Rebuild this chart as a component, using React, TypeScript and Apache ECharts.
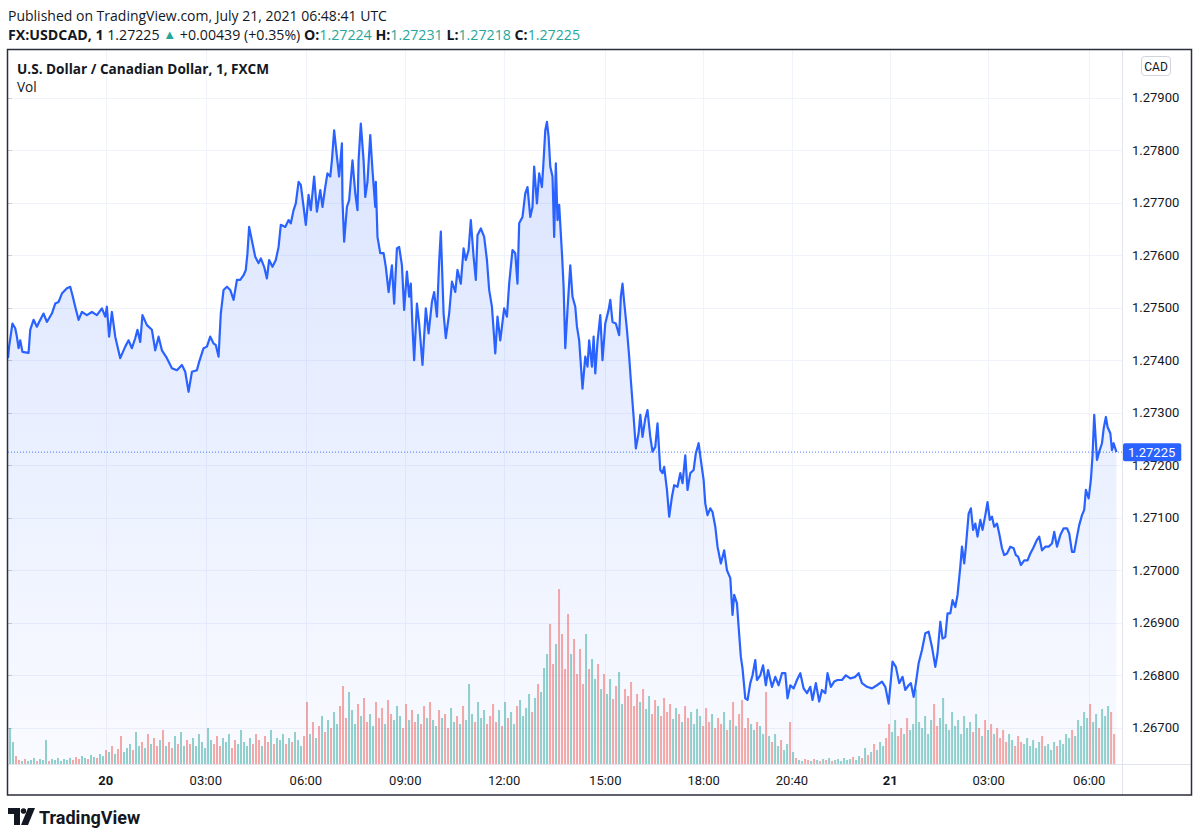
import React, { useEffect, useRef } from "react";
import * as echarts from "echarts";

// minute index (0 = left edge of the chart, ~19 Jul 21:04 UTC) and close price
const priceSeries: [number, number][] = [
  [0,1.27404],[2,1.27426],[8,1.27470],[13,1.27461],[16,1.27445],[19,1.27423],[22,1.27438],[26,1.27416],[37,1.27414],[40,1.27458],[46,1.27477],[52,1.27464],[56,1.27473],[64,1.27489],[70,1.27473],[79,1.27489],[85,1.27508],[91,1.27511],[97,1.27527],[106,1.27537],[112,1.27540],[116,1.27524],[121,1.27502],[127,1.27477],[133,1.27492],[142,1.27486],[151,1.27492],[160,1.27486],[169,1.27499],[175,1.27483],[178,1.27502],[182,1.27445],[187,1.27492],[193,1.27445],[202,1.27404],[211,1.27426],[217,1.27438],[223,1.27423],[229,1.27442],[233,1.27458],[238,1.27435],[242,1.27486],[250,1.27467],[259,1.27458],[265,1.27419],[271,1.27445],[277,1.27419],[286,1.27404],[295,1.27385],[304,1.27381],[313,1.27391],[319,1.27378],[325,1.27340],[331,1.27378],[340,1.27381],[344,1.27397],
  [352,1.27423],[358,1.27426],[364,1.27445],[370,1.27432],[374,1.27429],[379,1.27407],[383,1.27489],[388,1.27534],[394,1.27540],[400,1.27534],[406,1.27515],[412,1.27553],[418,1.27553],[424,1.27562],[428,1.27572],[431,1.27604],[434,1.27654],[440,1.27623],[445,1.27597],[451,1.27585],[455,1.27594],[461,1.27578],[466,1.27556],[470,1.27591],[476,1.27578],[482,1.27591],[487,1.27616],[491,1.27658],[499,1.27654],[505,1.27667],[509,1.27661],[514,1.27686],[518,1.27699],[523,1.27740],[527,1.27734],[532,1.27692],[536,1.27658],[541,1.27715],[545,1.27686],[551,1.27750],[556,1.27683],[562,1.27724],[566,1.27692],[571,1.27730],[575,1.27756],[580,1.27750],[583,1.27781],[587,1.27838],[592,1.27788],[596,1.27750],[601,1.27813],[602,1.27705],[605,1.27626],[610,1.27692],[614,1.27705],[620,1.27781],[625,1.27718],[629,1.27686],[631,1.27781],[635,1.27851],[640,1.27781],[643,1.27711],[647,1.27740],[652,1.27829],[656,1.27762],[661,1.27692],[662,1.27740],[665,1.27635],[670,1.27604],
  [676,1.27604],[680,1.27578],[685,1.27530],[691,1.27581],[695,1.27508],[700,1.27613],[704,1.27616],[709,1.27581],[713,1.27496],[718,1.27569],[722,1.27521],[725,1.27546],[728,1.27464],[731,1.27400],[736,1.27508],[740,1.27470],[746,1.27391],[752,1.27499],[757,1.27451],[763,1.27511],[767,1.27530],[772,1.27483],[776,1.27588],[779,1.27645],[784,1.27489],[788,1.27442],[794,1.27489],[799,1.27550],[805,1.27530],[809,1.27572],[815,1.27546],[820,1.27613],[824,1.27591],[829,1.27610],[833,1.27667],[838,1.27597],[842,1.27553],[845,1.27638],[851,1.27651],[857,1.27635],[862,1.27591],[866,1.27534],[871,1.27502],[877,1.27413],[881,1.27483],[886,1.27438],[893,1.27499],[898,1.27483],[902,1.27546],[908,1.27610],[913,1.27604],[917,1.27546],[920,1.27661],[926,1.27673],[931,1.27718],[935,1.27730],[940,1.27673],[944,1.27692],[947,1.27769],[952,1.27699],[956,1.27756],[961,1.27730],[964,1.27781],[967,1.27838],[970,1.27854],[973,1.27826],[976,1.27769],[980,1.27750],[983,1.27635],[986,1.27775],[989,1.27667],[992,1.27696],[997,1.27604],[1000,1.27540],[1003,1.27423],[1007,1.27496],[1012,1.27581],[1016,1.27521],[1021,1.27502],[1024,1.27464],[1028,1.27438],
  [1034,1.27346],[1039,1.27407],[1043,1.27388],[1046,1.27438],[1051,1.27388],[1054,1.27445],[1057,1.27375],[1061,1.27435],[1066,1.27486],[1070,1.27400],[1075,1.27470],[1081,1.27496],[1084,1.27515],[1088,1.27473],[1094,1.27470],[1100,1.27448],[1103,1.27521],[1106,1.27546],[1109,1.27511],[1114,1.27458],[1118,1.27407],[1121,1.27362],[1126,1.27292],[1130,1.27232],[1135,1.27261],[1138,1.27296],[1142,1.27254],[1147,1.27289],[1151,1.27305],[1156,1.27254],[1160,1.27226],[1165,1.27235],[1169,1.27280],[1174,1.27191],[1178,1.27185],[1181,1.27197],[1186,1.27153],[1190,1.27102],[1195,1.27140],[1199,1.27162],[1205,1.27159],[1210,1.27185],[1214,1.27166],[1219,1.27219],[1223,1.27153],[1228,1.27185],[1234,1.27191],[1238,1.27223],[1243,1.27242],[1247,1.27210],[1252,1.27172],[1255,1.27127],[1259,1.27105],[1264,1.27118],[1268,1.27111],[1273,1.27083],[1277,1.27045],[1283,1.27013],[1289,1.27038],[1294,1.27000],[1300,1.26985],[1304,1.26915],[1307,1.26953],[1312,1.26937],[1315,1.26892],[1319,1.26835],[1322,1.26813],[1327,1.26756],[1331,1.26753],[1336,1.26785],[1340,1.26800],[1345,1.26829],[1348,1.26791],[1354,1.26800],
  [1359,1.26819],[1364,1.26781],[1368,1.26810],[1375,1.26778],[1381,1.26797],[1387,1.26781],[1393,1.26804],[1399,1.26804],[1403,1.26756],[1408,1.26781],[1414,1.26775],[1420,1.26791],[1426,1.26804],[1432,1.26775],[1438,1.26766],[1444,1.26778],[1448,1.26753],[1454,1.26785],[1460,1.26750],[1465,1.26772],[1471,1.26766],[1475,1.26804],[1481,1.26778],[1487,1.26788],[1493,1.26791],[1501,1.26791],[1508,1.26800],[1516,1.26794],[1525,1.26797],[1531,1.26804],[1537,1.26785],[1546,1.26778],[1555,1.26775],[1564,1.26781],[1573,1.26788],[1579,1.26778],[1585,1.26746],[1589,1.26791],[1592,1.26826],[1598,1.26816],[1604,1.26785],[1610,1.26797],[1615,1.26772],[1621,1.26781],[1625,1.26785],[1630,1.26759],[1634,1.26785],[1639,1.26823],[1645,1.26848],[1651,1.26880],[1657,1.26883],[1663,1.26854],[1669,1.26816],[1673,1.26842],
  [1678,1.26902],[1682,1.26870],[1687,1.26873],[1691,1.26918],[1696,1.26918],[1700,1.26943],[1705,1.26930],[1709,1.26953],[1714,1.27007],[1717,1.27045],[1721,1.27013],[1724,1.27045],[1729,1.27108],[1733,1.27118],[1737,1.27077],[1741,1.27089],[1745,1.27064],[1750,1.27096],[1754,1.27077],[1759,1.27105],[1763,1.27130],[1767,1.27096],[1771,1.27102],[1775,1.27083],[1780,1.27089],[1784,1.27070],[1789,1.27042],[1793,1.27029],[1798,1.27032],[1804,1.27045],[1810,1.27042],[1814,1.27029],[1818,1.27026],[1823,1.27010],[1829,1.27019],[1835,1.27019],[1840,1.27032],[1845,1.27042],[1852,1.27058],[1856,1.27064],[1861,1.27038],[1867,1.27045],[1873,1.27045],[1879,1.27051],[1883,1.27073],[1888,1.27045],[1894,1.27067],[1900,1.27080],[1906,1.27080],[1910,1.27070],[1915,1.27035],[1919,1.27035],[1924,1.27064],[1928,1.27086],[1933,1.27105],[1937,1.27115],[1940,1.27153],[1945,1.27137],[1949,1.27172],[1952,1.27219],[1955,1.27296],[1960,1.27210],[1964,1.27226],[1969,1.27242],[1972,1.27270],[1976,1.27292],[1979,1.27273],[1984,1.27261],[1987,1.27229],[1990,1.27242],[1995,1.27225],
];

// volume, one bar per 5.4-minute slot starting at minute 3.6
const volStart = 3.6;
const volStep = 5.4;
const volumeValues = [
  36,22,8,4,3,5,3,4,6,3,
  5,4,24,3,5,4,6,3,5,4,
  6,4,7,5,8,6,5,9,7,6,
  10,8,14,12,18,10,15,28,12,16,
  20,14,32,18,22,16,30,20,26,18,
  24,34,18,22,16,28,20,32,18,24,
  20,26,18,30,22,16,36,24,20,28,
  18,26,22,30,16,24,20,34,22,18,
  26,20,30,24,18,28,22,34,20,26,
  24,30,20,26,22,32,24,18,28,62,
  30,42,26,38,48,32,44,36,52,40,
  58,78,46,72,54,40,60,48,66,42,
  50,38,62,46,56,40,64,50,44,58,
  48,36,60,44,54,42,50,40,58,46,
  62,44,38,54,46,50,36,56,42,48,
  40,58,44,80,50,42,62,46,54,40,
  48,60,42,54,38,62,46,52,40,58,
  64,48,56,70,52,66,80,72,96,110,
  140,100,120,175,130,95,150,110,125,90,
  115,80,130,95,105,85,100,75,90,70,
  85,65,78,92,60,75,68,82,58,70,
  62,75,55,68,50,64,58,48,66,52,
  60,45,56,50,42,58,46,52,40,55,
  48,38,56,42,50,36,46,40,52,34,
  44,62,38,50,64,36,46,40,34,42,
  38,30,72,28,22,30,18,24,14,20,
  42,12,6,4,3,5,4,3,5,4,
  3,5,4,6,3,4,5,3,6,4,
  5,7,4,8,6,16,9,12,20,14,
  22,18,26,40,32,44,28,36,30,46,
  34,40,75,42,36,48,30,44,60,38,
  46,66,40,34,52,38,44,30,48,36,
  42,32,50,36,28,44,34,40,30,36,
  26,34,22,30,24,18,28,22,20,26,
  18,24,16,22,28,18,20,14,22,18,
  24,20,30,26,34,28,44,38,52,46,
  60,42,50,36,55,48,58,52,30,
];

const timeTicks = [176, 356, 536, 715, 893, 1075, 1252, 1411, 1588, 1765, 1946];
const timeLabels = ["20", "03:00", "06:00", "09:00", "12:00", "15:00", "18:00", "20:40", "21", "03:00", "06:00"];
const dayLabels = ["20", "21"];
const priceTicks = [1.267, 1.268, 1.269, 1.27, 1.271, 1.272, 1.273, 1.274, 1.275, 1.276, 1.277, 1.278, 1.279];
const lastPrice = 1.27225;
const priceMin = 1.26631;
const priceMax = 1.27991;
const xMax = 2005;

const publishedText = "Published on TradingView.com, July 21, 2021 06:48:41 UTC";
const symbolText = "FX:USDCAD, 1";
const quoteText = "1.27225";
const changeText = "+0.00439 (+0.35%)";
const ohlcLabels = ["O:", "H:", "L:", "C:"];
const ohlcValues = ["1.27224", "1.27231", "1.27218", "1.27225"];
const titleText = "U.S. Dollar / Canadian Dollar, 1, FXCM";
const volText = "Vol";
const currencyText = "CAD";
const brandText = "TradingView";

const FONT = "Roboto, 'Open Sans', sans-serif";
const HFONT = "'Open Sans', Roboto, sans-serif";
const TEXT = "#131722";
const TEAL = "#26a69a";

function priceAt(t: number): number {
  let p = priceSeries[0][1];
  for (const [tt, pp] of priceSeries) {
    if (tt <= t) p = pp;
    else break;
  }
  return p;
}

export default function App() {
  const ref = useRef<HTMLDivElement>(null);

  useEffect(() => {
    if (!ref.current) return;
    const chart = echarts.init(ref.current, undefined, { renderer: "svg" });

    const volData = volumeValues.map((v, i) => {
      const t = volStart + i * volStep;
      const up = priceAt(t) >= priceAt(t - volStep);
      return {
        value: [t, v],
        itemStyle: { color: up ? "rgba(38,166,154,0.5)" : "rgba(239,83,80,0.5)" },
      };
    });

    const ohlcRich = ohlcLabels
      .map((l, i) => `{b|${l}}{t|${ohlcValues[i]}}`)
      .join("{n| }");

    const option: any = {
      animation: false,
      backgroundColor: "#ffffff",
      grid: { left: 8, right: 78, top: 50, bottom: 73, containLabel: false },
      xAxis: {
        type: "value",
        min: 0,
        max: xMax,
        axisLine: { show: false },
        axisTick: { show: false, customValues: timeTicks },
        splitLine: { show: true, lineStyle: { color: "#f0f3fa", width: 1 } },
        axisLabel: {
          customValues: timeTicks,
          margin: 10,
          color: TEXT,
          fontFamily: FONT,
          fontSize: 13,
          formatter: (v: number) => {
            const i = timeTicks.indexOf(Math.round(v));
            const s = i >= 0 ? timeLabels[i] : "";
            return dayLabels.includes(s) ? `{b|${s}}` : s;
          },
          rich: { b: { fontWeight: "bold", fontSize: 13, fontFamily: FONT, color: TEXT } },
        },
      },
      yAxis: [
        {
          type: "value",
          position: "right",
          min: priceMin,
          max: priceMax,
          axisLine: { show: false },
          axisTick: { show: true, length: 4, customValues: priceTicks, lineStyle: { color: "#c8cbd3" } },
          splitLine: { show: true, lineStyle: { color: "#f0f3fa", width: 1 } },
          axisLabel: {
            customValues: priceTicks,
            margin: 10,
            color: TEXT,
            fontFamily: FONT,
            fontSize: 13,
            formatter: (v: number) => v.toFixed(5),
          },
        },
        {
          type: "value",
          min: 0,
          max: 714,
          show: false,
          splitLine: { show: false },
        },
      ],
      series: [
        {
          name: "area",
          type: "line",
          data: priceSeries,
          showSymbol: false,
          symbol: "none",
          silent: true,
          z: 1,
          lineStyle: { width: 0, opacity: 0 },
          areaStyle: {
            color: new echarts.graphic.LinearGradient(0, 0, 0, 1, [
              { offset: 0, color: "rgba(41,98,255,0.24)" },
              { offset: 1, color: "rgba(41,98,255,0.04)" },
            ]),
          },
        },
        {
          name: "Vol",
          type: "bar",
          yAxisIndex: 1,
          data: volData,
          barWidth: 2,
          silent: true,
          z: 2,
        },
        {
          name: "last",
          type: "line",
          data: [[0, lastPrice], [xMax, lastPrice]],
          showSymbol: false,
          symbol: "none",
          silent: true,
          z: 4,
          lineStyle: { color: "rgba(41,98,255,0.85)", type: [1, 2], width: 1 },
          endLabel: {
            show: true,
            distance: 1,
            formatter: () => lastPrice.toFixed(5),
            backgroundColor: "#2962ff",
            color: "#ffffff",
            fontFamily: FONT,
            fontSize: 13,
            padding: [3, 6, 2, 5],
            borderRadius: 2,
          },
        },
        {
          name: "USDCAD",
          type: "line",
          data: priceSeries,
          showSymbol: false,
          symbol: "none",
          z: 3,
          lineStyle: { color: "#2962ff", width: 2.2, join: "round" },
        },
      ],
      graphic: [
        // chart frame and separators
        { type: "line", silent: true, z: 5, shape: { x1: 1122.5, y1: 49, x2: 1122.5, y2: 795 }, style: { stroke: "#e0e3eb", lineWidth: 1 } },
        { type: "line", silent: true, z: 5, shape: { x1: 7, y1: 764.5, x2: 1192, y2: 764.5 }, style: { stroke: "#e0e3eb", lineWidth: 1 } },
        { type: "rect", silent: true, shape: { x: 7.5, y: 49.5, width: 1184, height: 745.5 }, style: { fill: "none", stroke: "#2a2e39", lineWidth: 1.5 }, z: 100 },
        // header
        { type: "text", z: 50, x: 8, y: 15, style: { text: publishedText, fill: TEXT, font: `14px ${HFONT}`, verticalAlign: "middle" } },
        {
          type: "text",
          z: 50,
          x: 8,
          y: 34,
          style: {
            text: `{b|${symbolText}}{n| ${quoteText} }{g|▲}{n| ${changeText} }${ohlcRich}`,
            verticalAlign: "middle",
            rich: {
              b: { fontFamily: HFONT, fontSize: 14.2, fontWeight: "bold", fill: TEXT, color: TEXT },
              n: { fontFamily: HFONT, fontSize: 14.2, fill: TEXT, color: TEXT },
              g: { fontFamily: HFONT, fontSize: 13, fill: TEAL, color: TEAL },
              t: { fontFamily: HFONT, fontSize: 14.2, fill: TEAL, color: TEAL },
            },
          },
        },
        // legend inside chart
        { type: "text", z: 50, x: 17, y: 68, style: { text: titleText, fill: TEXT, font: `bold 13.6px ${HFONT}`, verticalAlign: "middle" } },
        { type: "text", z: 50, x: 17, y: 86, style: { text: volText, fill: TEXT, font: `13.6px ${HFONT}`, verticalAlign: "middle" } },
        // currency badge
        { type: "rect", z: 50, silent: true, shape: { x: 1141.5, y: 56.5, width: 29, height: 19, r: 3 }, style: { fill: "#ffffff", stroke: "#d1d4dc", lineWidth: 1 } },
        { type: "text", z: 51, x: 1156, y: 66.5, style: { text: currencyText, fill: TEXT, font: `12px ${FONT}`, align: "center", verticalAlign: "middle" } },
        // footer brand
        { type: "polygon", shape: { points: [[8, 808], [20, 808], [20, 825], [14, 825], [14, 814], [8, 814]] }, style: { fill: TEXT } },
        { type: "circle", shape: { cx: 23.5, cy: 811, r: 2.8 }, style: { fill: TEXT } },
        { type: "polygon", shape: { points: [[28, 808], [35, 808], [28, 825], [21, 825]] }, style: { fill: TEXT } },
        { type: "text", x: 39, y: 817, style: { text: brandText, fill: TEXT, font: `bold 18px ${FONT}`, verticalAlign: "middle" } },
      ],
    };

    chart.setOption(option);
    return () => chart.dispose();
  }, []);

  return (
    <div
      ref={ref}
      style={{ position: "absolute", left: 0, top: 0, width: 1200, height: 837, background: "#ffffff" }}
    />
  );
}
